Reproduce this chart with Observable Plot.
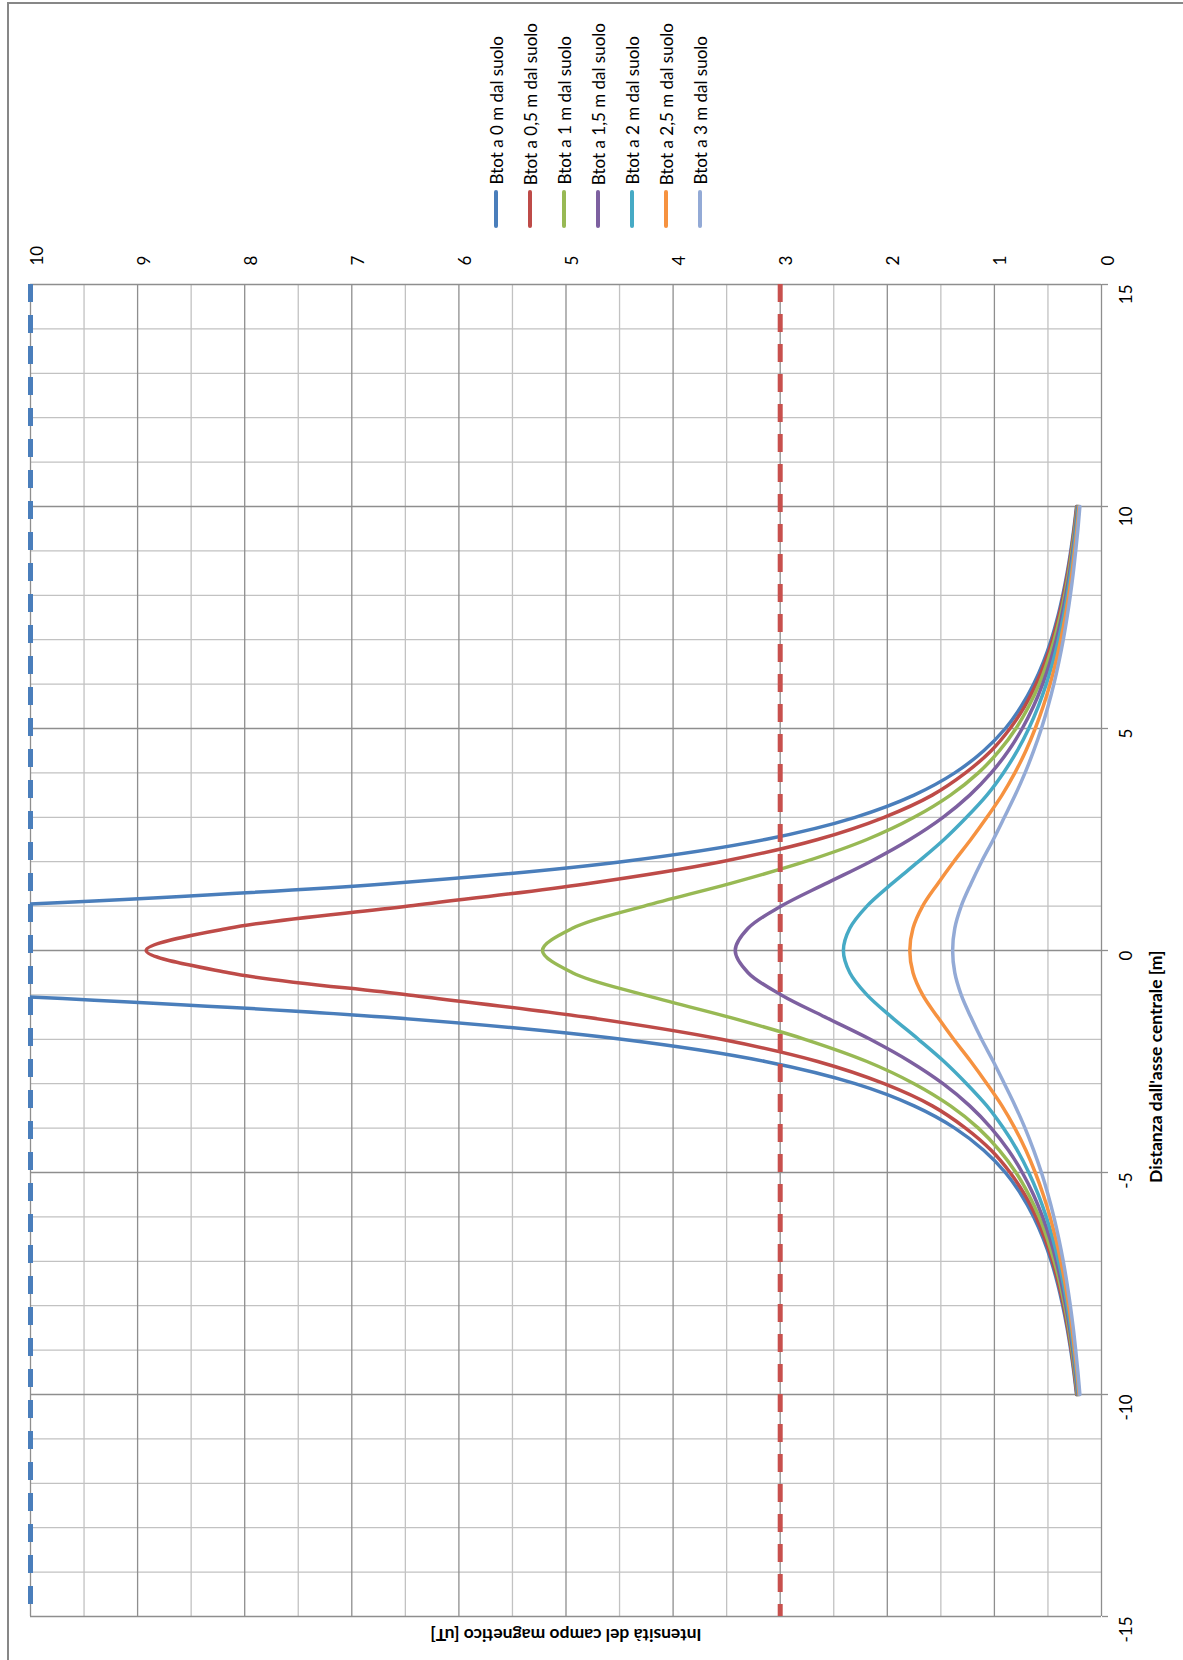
<!DOCTYPE html>
<html lang="it">
<head>
<meta charset="utf-8">
<title>Intensità del campo magnetico</title>
<script src="https://cdn.jsdelivr.net/npm/d3@7"></script>
<script src="https://cdn.jsdelivr.net/npm/@observablehq/plot@0.6"></script>
<style>
  html, body { margin: 0; padding: 0; background: #fff; }
  #chart { position: relative; width: 1183px; height: 1660px; background: #fff; font-family: Lato, "Open Sans", sans-serif; }
  #frame { position: absolute; left: 7px; top: 2px; right: 0; bottom: 0; border-left: 2px solid #878787; border-top: 2px solid #878787; pointer-events: none; }
  #legend { position: relative; width: 1183px; height: 240px; }
  #legend .items { position: absolute; left: 479px; bottom: 12px; display: flex; align-items: flex-end; }
  #legend .item { width: 34px; display: flex; flex-direction: column; align-items: center; }
  #legend .label { writing-mode: vertical-rl; transform: rotate(180deg); font-size: 17px; line-height: 1; white-space: nowrap; color: #000; }
  #legend .swatch { width: 4px; height: 38px; border-radius: 2px; margin-top: 5px; }
  #plot svg { display: block; }
</style>
</head>
<body>
<div id="chart">
  <div id="legend"><div class="items"></div></div>
  <div id="plot"></div>
  <div id="frame"></div>
</div>
<script>
// Distance from the line axis [m]
const distance = [-10, -9.5, -9, -8.5, -8, -7.5, -7, -6.5, -6, -5.5, -5, -4.5, -4, -3.5, -3, -2.5, -2, -1.5, -1, -0.5,
  0, 0.5, 1, 1.5, 2, 2.5, 3, 3.5, 4, 4.5, 5, 5.5, 6, 6.5, 7, 7.5, 8, 8.5, 9, 9.5, 10];

// Total magnetic field [uT] at each height above ground
const btot0 = [0.233, 0.258, 0.287, 0.321, 0.362, 0.410, 0.469, 0.542, 0.633, 0.749, 0.898, 1.10, 1.37, 1.75, 2.30, 3.14, 4.48, 6.70, 10.40, 15.53,
  18.58, 15.53, 10.40, 6.70, 4.48, 3.14, 2.30, 1.75, 1.37, 1.10, 0.898, 0.749, 0.633, 0.542, 0.469, 0.410, 0.362, 0.321, 0.287, 0.258, 0.233];
const btot05 = [0.230, 0.254, 0.282, 0.315, 0.354, 0.401, 0.457, 0.526, 0.611, 0.717, 0.854, 1.03, 1.27, 1.58, 2.03, 2.65, 3.55, 4.82, 6.47, 8.15,
  8.92, 8.15, 6.47, 4.82, 3.55, 2.65, 2.03, 1.58, 1.27, 1.03, 0.854, 0.717, 0.611, 0.526, 0.457, 0.401, 0.354, 0.315, 0.282, 0.254, 0.230];
const btot1 = [0.226, 0.249, 0.276, 0.307, 0.344, 0.388, 0.441, 0.505, 0.582, 0.679, 0.799, 0.953, 1.15, 1.41, 1.75, 2.19, 2.77, 3.48, 4.27, 4.94,
  5.22, 4.94, 4.27, 3.48, 2.77, 2.19, 1.75, 1.41, 1.15, 0.953, 0.799, 0.679, 0.582, 0.505, 0.441, 0.388, 0.344, 0.307, 0.276, 0.249, 0.226];
const btot15 = [0.221, 0.243, 0.268, 0.298, 0.333, 0.374, 0.422, 0.480, 0.550, 0.635, 0.740, 0.869, 1.03, 1.23, 1.48, 1.79, 2.16, 2.58, 2.99, 3.30,
  3.42, 3.30, 2.99, 2.58, 2.16, 1.79, 1.48, 1.23, 1.03, 0.869, 0.740, 0.635, 0.550, 0.480, 0.422, 0.374, 0.333, 0.298, 0.268, 0.243, 0.221];
const btot2 = [0.215, 0.236, 0.260, 0.288, 0.320, 0.357, 0.402, 0.454, 0.516, 0.590, 0.679, 0.786, 0.916, 1.07, 1.26, 1.47, 1.71, 1.96, 2.19, 2.35,
  2.41, 2.35, 2.19, 1.96, 1.71, 1.47, 1.26, 1.07, 0.916, 0.786, 0.679, 0.590, 0.516, 0.454, 0.402, 0.357, 0.320, 0.288, 0.260, 0.236, 0.215];
const btot25 = [0.209, 0.228, 0.251, 0.276, 0.306, 0.340, 0.380, 0.426, 0.480, 0.544, 0.619, 0.706, 0.809, 0.929, 1.07, 1.22, 1.38, 1.53, 1.67, 1.76,
  1.79, 1.76, 1.67, 1.53, 1.38, 1.22, 1.07, 0.929, 0.809, 0.706, 0.619, 0.544, 0.480, 0.426, 0.380, 0.340, 0.306, 0.276, 0.251, 0.228, 0.209];
const btot3 = [0.202, 0.220, 0.241, 0.264, 0.291, 0.322, 0.357, 0.398, 0.445, 0.499, 0.561, 0.633, 0.714, 0.806, 0.907, 1.01, 1.12, 1.22, 1.31, 1.37,
  1.39, 1.37, 1.31, 1.22, 1.12, 1.01, 0.907, 0.806, 0.714, 0.633, 0.561, 0.499, 0.445, 0.398, 0.357, 0.322, 0.291, 0.264, 0.241, 0.220, 0.202];

const seriesNames = [
  "Btot a 0 m dal suolo", "Btot a 0,5 m dal suolo", "Btot a 1 m dal suolo", "Btot a 1,5 m dal suolo",
  "Btot a 2 m dal suolo", "Btot a 2,5 m dal suolo", "Btot a 3 m dal suolo"
];
const seriesValues = [btot0, btot05, btot1, btot15, btot2, btot25, btot3];
const seriesColors = ["#4A7EBB", "#BE4B48", "#98B954", "#7D60A0", "#46AAC5", "#F69240", "#93AAD6"];

// Reference thresholds [uT]
const attentionValue = 10;
const qualityObjective = 3;

// Axis ticks
const valueTicks = [0, 1, 2, 3, 4, 5, 6, 7, 8, 9, 10];
const valueMinor = [0.5, 1.5, 2.5, 3.5, 4.5, 5.5, 6.5, 7.5, 8.5, 9.5];
const distanceTicks = [-15, -10, -5, 0, 5, 10, 15];
const distanceMinor = [-14, -13, -12, -11, -9, -8, -7, -6, -4, -3, -2, -1, 1, 2, 3, 4, 6, 7, 8, 9, 11, 12, 13, 14];

const valueTitle = "Intensità del campo magnetico [uT]";
const distanceTitle = "Distanza dall'asse centrale [m]";

// Long-format table for the curves
const rows = seriesNames.flatMap((name, i) =>
  distance.map((d, j) => ({series: name, dist: d, value: seriesValues[i][j]}))
);

// Legend (stacked left to right, reading upward)
const items = d3.select("#legend .items");
seriesNames.forEach((name, i) => {
  const it = items.append("div").attr("class", "item");
  it.append("div").attr("class", "label").text(name);
  it.append("div").attr("class", "swatch").style("background", seriesColors[i]);
});

const gridMinor = "#c2c2c2";
const gridMajor = "#8e8e8e";

const chart = Plot.plot({
  width: 1183,
  height: 1420,
  marginTop: 44,
  marginLeft: 30,
  marginRight: 82,
  marginBottom: 44,
  x: {domain: [10, 0], axis: null},
  y: {domain: [-15, 15], axis: null},
  color: {domain: seriesNames, range: seriesColors},
  style: {fontFamily: "Lato, 'Open Sans', sans-serif", fontSize: "17px", color: "#000", background: "#fff"},
  marks: [
    // grid
    Plot.ruleX(valueMinor, {stroke: gridMinor, strokeWidth: 1.3}),
    Plot.ruleY(distanceMinor, {stroke: gridMinor, strokeWidth: 1.3}),
    Plot.ruleX(valueTicks, {stroke: gridMajor, strokeWidth: 1.3}),
    Plot.ruleY(distanceTicks, {stroke: gridMajor, strokeWidth: 1.3}),
    // distance axis tick marks
    Plot.axisY({anchor: "right", ticks: distanceTicks, tickSize: 6, tickFormat: () => "", label: null, stroke: gridMajor, strokeWidth: 1.3}),
    // field curves
    Plot.line(rows, {x: "value", y: "dist", z: "series", stroke: "series", strokeWidth: 3.5, curve: "catmull-rom", clip: true}),
    // thresholds
    Plot.ruleX([attentionValue], {stroke: "#4A7EBB", strokeWidth: 5, strokeDasharray: "18,13"}),
    Plot.ruleX([qualityObjective], {stroke: "#C8504D", strokeWidth: 5, strokeDasharray: "18,12"}),
    // value tick labels
    Plot.text(valueTicks, {x: d => d, text: d => String(d), frameAnchor: "top", dy: -19, rotate: -90, textAnchor: "start", fontSize: 17, fill: "#000"}),
    // distance tick labels
    Plot.text(distanceTicks, {y: d => d, text: d => String(d), frameAnchor: "right", dx: 25, rotate: -90, fontSize: 17, fill: "#000"}),
    // axis titles
    Plot.text([distanceTitle], {frameAnchor: "right", dx: 55, rotate: -90, text: d => d, fontWeight: "bold", fontSize: 17.5, fill: "#000"}),
    Plot.text([valueTitle], {frameAnchor: "bottom", dy: 12, rotate: 180, text: d => d, fontWeight: "bold", fontSize: 17.5, fill: "#000"})
  ]
});
document.getElementById("plot").append(chart);
</script>
</body>
</html>
